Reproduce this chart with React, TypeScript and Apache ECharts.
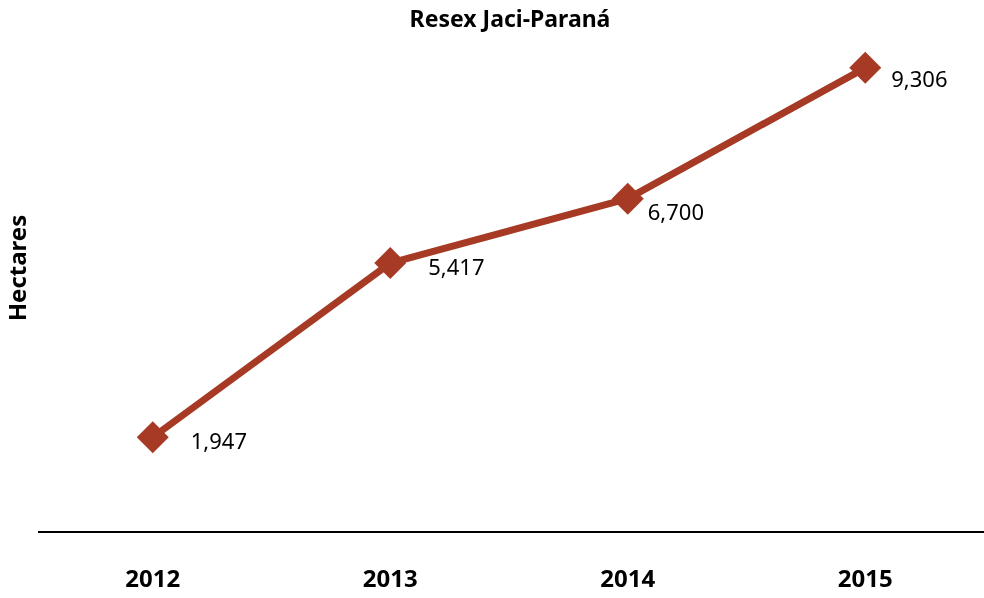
import React, { useEffect, useRef } from "react";
import * as echarts from "echarts";

const years = ["2012", "2013", "2014", "2015"];
const hectares = [1947, 5417, 6700, 9306];
const titleText = "Resex Jaci-Paraná";
const yName = "Hectares";
// label placement per point (style only)
const labelOffsets = [
  [17, 3],
  [17, 3],
  [-1, 12],
  [5, 10],
];

export default function App() {
  const ref = useRef<HTMLDivElement>(null);
  useEffect(() => {
    if (!ref.current) return;
    const chart = echarts.init(ref.current, null, { renderer: "svg" });
    const font = "'Noto Sans', 'Open Sans', sans-serif";
    chart.setOption({
      animation: false,
      title: {
        text: titleText,
        left: 505,
        textAlign: "center",
        top: 1,
        textStyle: { fontFamily: font, fontWeight: "bold", fontSize: 23, color: "#000" },
      },
      grid: { left: 34, right: -1, top: 33, bottom: 63 },
      xAxis: {
        type: "category",
        data: years,
        boundaryGap: true,
        axisLine: { show: false },
        axisTick: { show: false },
        axisLabel: {
          margin: 30,
          fontFamily: font,
          fontWeight: "bold",
          fontSize: 24,
          color: "#000",
        },
      },
      yAxis: {
        type: "value",
        min: 0,
        max: 10000,
        splitLine: { show: false },
        axisLine: { show: false },
        axisTick: { show: false },
        axisLabel: { show: false },
      },
      graphic: [
        {
          type: "line",
          shape: { x1: 38, y1: 532, x2: 984, y2: 532 },
          style: { stroke: "#000", lineWidth: 2 },
        },
        {
          type: "text",
          x: 16,
          y: 268,
          rotation: Math.PI / 2,
          style: {
            text: yName,
            fontFamily: font,
            fontWeight: "bold",
            fontSize: 24,
            lineHeight: 24,
            fill: "#000",
            textAlign: "center",
            textVerticalAlign: "middle",
          },
        },
      ],
      series: [
        {
          type: "line",
          data: hectares.map((v, i) => ({
            value: v,
            label: { offset: labelOffsets[i] },
          })),
          symbol: "diamond",
          symbolSize: 32,
          lineStyle: { color: "#a63a25", width: 7 },
          itemStyle: { color: "#a63a25" },
          label: {
            show: true,
            position: "right",
            formatter: (p: any) => Number(p.value).toLocaleString("en-US"),
            fontFamily: font,
            fontSize: 22,
            color: "#000",
          },
        },
      ],
    });
    return () => chart.dispose();
  }, []);
  return (
    <div
      ref={ref}
      style={{ position: "fixed", left: 0, top: 0, width: 984, height: 598 }}
    />
  );
}
